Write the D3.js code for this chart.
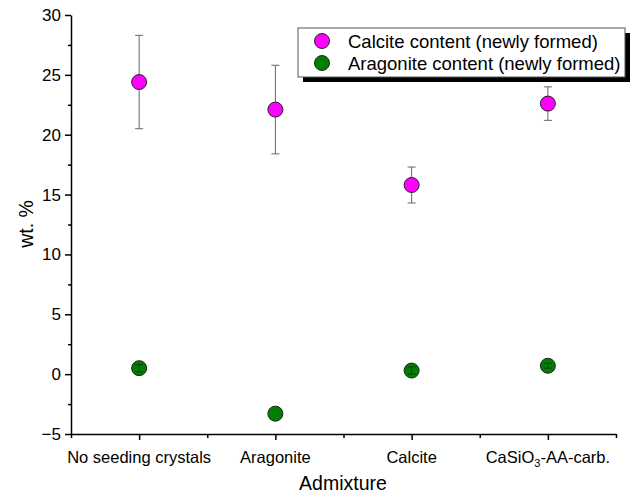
<!DOCTYPE html>
<html>
<head>
<meta charset="utf-8">
<script src="https://cdn.jsdelivr.net/npm/d3@7"></script>
<style>
  body { margin: 0; background: #fff; }
  text { font-family: Arial, "Liberation Sans", sans-serif; }
</style>
</head>
<body>
<div class="chart"></div>
<script>
// data
const categories = ["No seeding crystals", "Aragonite", "Calcite", "CaSiO3-AA-carb."];
const calciteValues = [24.4, 22.1, 15.8, 22.6];
const calciteErrors = [3.9, 3.7, 1.5, 1.4];
const aragoniteValues = [0.5, -3.3, 0.3, 0.7];
const aragoniteErrors = [0.3, 0.3, 0.3, 0.2];
const yTicks = [-5, 0, 5, 10, 15, 20, 25, 30];
const seriesNames = ["Calcite content (newly formed)", "Aragonite content (newly formed)"];
const seriesColors = ["#ff00ff", "#008000"];

const width = 636, height = 494;

const svg = d3.select('.chart').append('svg')
    .attr("width", width)
    .attr("height", height);

const xScale = d3.scaleLinear().domain([0.5, 4.5]).range([71, 616]);
const yScale = d3.scaleLinear().domain([-5, 30]).range([434, 15]);

// minor ticks
const yMinor = d3.range(-2.5, 30, 5);
const xMinor = d3.range(0.5, 4.6, 1);

svg.append("g")
    .attr("transform", "translate(71,0)")
    .call(d3.axisLeft(yScale).tickValues(yMinor).tickSize(3).tickFormat(""))
    .call(g => g.select(".domain").remove())
    .selectAll("line").attr("stroke-width", 1.5);

svg.append("g")
    .attr("transform", "translate(0,434)")
    .call(d3.axisBottom(xScale).tickValues(xMinor).tickSize(4).tickFormat(""))
    .call(g => g.select(".domain").remove())
    .selectAll("line").attr("stroke-width", 1.5);

const yAxis = svg.append("g")
    .attr("class", "axis y-axis")
    .attr("transform", "translate(71,0)")
    .call(d3.axisLeft(yScale).tickValues(yTicks).tickSize(6).tickSizeOuter(0).tickPadding(4));

const xAxis = svg.append("g")
    .attr("class", "axis x-axis")
    .attr("transform", "translate(0,434)")
    .call(d3.axisBottom(xScale).tickValues([1, 2, 3, 4]).tickSize(6).tickSizeOuter(0).tickFormat(""));

svg.selectAll(".axis path, .axis line").attr("stroke", "#000").attr("stroke-width", 1.5);
yAxis.selectAll("text").attr("font-size", "17px").attr("fill", "#000");

// category labels (with subscript)
const xLabels = svg.append("g");
xLabels.selectAll("text")
    .data(categories)
    .enter()
    .append("text")
    .attr("x", (d, i) => xScale(i + 1))
    .attr("y", 463)
    .attr("text-anchor", "middle")
    .attr("font-size", "16.5px")
    .attr("fill", "#000")
    .each(function(d) {
        const t = d3.select(this);
        const m = d.match(/^(CaSiO)(3)(.*)$/);
        if (m) {
            t.append("tspan").text(m[1]);
            t.append("tspan").attr("font-size", "11px").attr("dy", 4).text(m[2]);
            t.append("tspan").attr("dy", -4).text(m[3]);
        } else {
            t.text(d);
        }
    });

svg.append("text")
    .attr("x", 343)
    .attr("y", 490)
    .attr("text-anchor", "middle")
    .attr("font-size", "19.5px")
    .text("Admixture");

svg.append("text")
    .attr("transform", "translate(33,224) rotate(-90)")
    .attr("text-anchor", "middle")
    .attr("font-size", "19.5px")
    .text("wt. %");

// series
const series = [
    {vals: calciteValues, errs: calciteErrors, color: seriesColors[0]},
    {vals: aragoniteValues, errs: aragoniteErrors, color: seriesColors[1]}
];

series.forEach(s => {
    const rows = s.vals.map((v, i) => ({x: i + 1, v: v, e: s.errs[i]}));
    const g = svg.append("g");
    const eb = g.selectAll(".err").data(rows).enter().append("g")
        .attr("stroke", "#666").attr("stroke-width", 1);
    eb.append("line")
        .attr("x1", d => xScale(d.x)).attr("x2", d => xScale(d.x))
        .attr("y1", d => yScale(d.v + d.e)).attr("y2", d => yScale(d.v - d.e));
    eb.append("line")
        .attr("x1", d => xScale(d.x) - 4).attr("x2", d => xScale(d.x) + 4)
        .attr("y1", d => yScale(d.v + d.e)).attr("y2", d => yScale(d.v + d.e));
    eb.append("line")
        .attr("x1", d => xScale(d.x) - 4).attr("x2", d => xScale(d.x) + 4)
        .attr("y1", d => yScale(d.v - d.e)).attr("y2", d => yScale(d.v - d.e));

    g.selectAll("circle").data(rows).enter().append("circle")
        .attr("cx", d => xScale(d.x))
        .attr("cy", d => yScale(d.v))
        .attr("r", 7.5)
        .attr("fill", s.color)
        .attr("stroke", "#222")
        .attr("stroke-width", 1);

    // tiny error bars stay visible on top of the marker
    g.selectAll(".inner").data(rows.filter(d => yScale(d.v - d.e) - yScale(d.v + d.e) < 15 && d.v > -1)).enter()
        .append("g").attr("stroke", "#222").attr("stroke-width", 0.8)
        .each(function(d) {
            const t = d3.select(this);
            t.append("line").attr("x1", xScale(d.x)).attr("x2", xScale(d.x))
                .attr("y1", yScale(d.v + d.e)).attr("y2", yScale(d.v - d.e));
            t.append("line").attr("x1", xScale(d.x) - 4).attr("x2", xScale(d.x) + 4)
                .attr("y1", yScale(d.v + d.e)).attr("y2", yScale(d.v + d.e));
            t.append("line").attr("x1", xScale(d.x) - 4).attr("x2", xScale(d.x) + 4)
                .attr("y1", yScale(d.v - d.e)).attr("y2", yScale(d.v - d.e));
        });
});

// legend
const legend = svg.append("g");
legend.append("rect")
    .attr("x", 303).attr("y", 33).attr("width", 327).attr("height", 49)
    .attr("fill", "#000");
legend.append("rect")
    .attr("x", 298).attr("y", 28).attr("width", 327).attr("height", 49)
    .attr("fill", "#fff").attr("stroke", "#555").attr("stroke-width", 1);

legend.selectAll("circle")
    .data(seriesNames)
    .enter()
    .append("circle")
    .attr("cx", 322)
    .attr("cy", (d, i) => 41 + i * 22)
    .attr("r", 7.5)
    .attr("fill", (d, i) => seriesColors[i])
    .attr("stroke", "#222");

legend.selectAll("text")
    .data(seriesNames)
    .enter()
    .append("text")
    .attr("x", 348)
    .attr("y", (d, i) => 47.5 + i * 22)
    .attr("font-size", "18.5px")
    .text(d => d);
</script>
</body>
</html>
